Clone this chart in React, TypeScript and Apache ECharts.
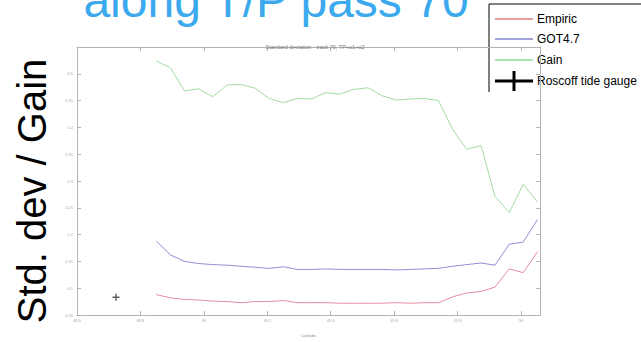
import React, { useEffect, useRef } from "react";
import * as echarts from "echarts";

// Along-track latitude of the T/P pass 70 samples (degrees N)
const latitudes = [
  48.85, 48.895, 48.939, 48.984, 49.028, 49.073, 49.117, 49.162, 49.206, 49.251,
  49.295, 49.34, 49.384, 49.429, 49.473, 49.518, 49.562, 49.607, 49.651, 49.696,
  49.74, 49.785, 49.829, 49.874, 49.918, 49.963, 50.007, 50.052,
];

// Standard deviation of the empirical model residuals
const empiric = [
  0.088, 0.082, 0.079, 0.078, 0.076, 0.075, 0.073, 0.075, 0.075, 0.077,
  0.073, 0.073, 0.073, 0.072, 0.072, 0.072, 0.072, 0.073, 0.072, 0.073,
  0.073, 0.084, 0.091, 0.094, 0.102, 0.136, 0.129, 0.168,
];

// Standard deviation of the GOT4.7 residuals
const got47 = [
  0.188, 0.162, 0.15, 0.146, 0.144, 0.143, 0.141, 0.139, 0.137, 0.14,
  0.135, 0.135, 0.136, 0.135, 0.135, 0.135, 0.135, 0.134, 0.135, 0.136,
  0.137, 0.141, 0.144, 0.147, 0.143, 0.182, 0.186, 0.228,
];

// Gain of the empirical model over GOT4.7
const gain = [
  0.524, 0.511, 0.468, 0.472, 0.457, 0.479, 0.48, 0.473, 0.454, 0.446,
  0.454, 0.453, 0.465, 0.462, 0.471, 0.474, 0.459, 0.451, 0.453, 0.454,
  0.45, 0.396, 0.359, 0.366, 0.272, 0.241, 0.294, 0.261,
];

// Roscoff tide gauge: [latitude, std. dev]
const roscoff = [48.723, 0.083];

const seriesNames = ["Empiric", "GOT4.7", "Gain", "Roscoff tide gauge"];
const lineColors = ["#e68c9c", "#8e8ed6", "#a2dca2"];
const legendColors = ["#cc4040", "#4848b8", "#58cc58"];

const plotTitle = "Standard deviation - track 70, TP+u1+u2";
const slideTitle = "along T/P pass 70";
const yName = "Std. dev / Gain";
const xName = "Latitude";

const X_MIN = 48.6;
const X_MAX = 50.06;
const X_STEP = 0.2;
const Y_MIN = 0.05;
const Y_MAX = 0.55;
const Y_STEP = 0.05;

const plusPath = "path://M4,0H6V4H10V6H6V10H4V6H0V4H4Z";

function onGrid(v: number, step: number, min: number) {
  const k = (v - min) / step;
  return Math.abs(k - Math.round(k)) < 1e-6;
}

export default function App() {
  const ref = useRef<HTMLDivElement>(null);

  useEffect(() => {
    if (!ref.current) return;
    const chart = echarts.init(ref.current, undefined, { renderer: "svg" });
    const axisGray = "#b4b4b4";
    const labelGray = "#a8a8a8";
    const tinyLabel = { fontSize: 4, color: labelGray, fontFamily: "Liberation Sans" };

    const xBase = {
      type: "value" as const,
      min: X_MIN,
      max: X_MAX,
      interval: X_STEP,
      splitLine: { show: false },
      axisLine: { show: true, onZero: false, lineStyle: { color: axisGray, width: 1 } },
      axisTick: { show: true, inside: true, length: 4, lineStyle: { color: axisGray } },
    };
    const yBase = {
      type: "value" as const,
      min: Y_MIN,
      max: Y_MAX,
      interval: Y_STEP,
      splitLine: { show: false },
      axisLine: { show: true, onZero: false, lineStyle: { color: axisGray, width: 1 } },
      axisTick: { show: true, inside: true, length: 4, lineStyle: { color: axisGray } },
    };

    const legendTop = 4;
    const legendBottom = 92;
    const rowY = [19, 39, 60, 81];
    const legendX = 489;

    // Legend panel: white box open at the bottom and right edges
    const legendItems: any[] = [
      {
        type: "rect",
        shape: { x: legendX, y: legendTop, width: 160, height: legendBottom - legendTop },
        style: { fill: "#ffffff", stroke: null },
      },
      {
        type: "polyline",
        shape: { points: [[legendX, legendBottom], [legendX, legendTop], [641, legendTop]] },
        style: { stroke: "#000000", lineWidth: 1, fill: null },
      },
    ];
    for (let i = 0; i < 3; i++) {
      legendItems.push({
        type: "line",
        shape: { x1: 495, y1: rowY[i], x2: 533, y2: rowY[i] },
        style: { stroke: legendColors[i], lineWidth: 1 },
      });
    }
    legendItems.push(
      {
        type: "line",
        shape: { x1: 495, y1: rowY[3], x2: 533, y2: rowY[3] },
        style: { stroke: "#000", lineWidth: 3 },
      },
      {
        type: "line",
        shape: { x1: 514, y1: rowY[3] - 10, x2: 514, y2: rowY[3] + 10 },
        style: { stroke: "#000", lineWidth: 3 },
      }
    );
    seriesNames.forEach((name, i) => {
      legendItems.push({
        type: "text",
        x: 537,
        y: rowY[i],
        style: {
          text: name,
          fill: "#000",
          font: "12px 'Liberation Sans', Arial, sans-serif",
          textAlign: "left",
          textVerticalAlign: "middle",
        },
      });
    });

    chart.setOption({
      animation: false,
      backgroundColor: "#ffffff",
      grid: { left: 77, right: 101, top: 47, bottom: 24, containLabel: false },
      xAxis: [
        {
          ...xBase,
          position: "bottom",
          name: xName,
          nameLocation: "middle",
          nameGap: 18,
          nameTextStyle: { ...tinyLabel, color: "#888" },
          axisLabel: {
            ...tinyLabel,
            margin: 3,
            formatter: (v: number) =>
              onGrid(v, X_STEP, X_MIN) ? String(Math.round(v * 10) / 10) : "",
          },
        },
        { ...xBase, position: "top", axisLabel: { show: false } },
      ],
      yAxis: [
        {
          ...yBase,
          position: "left",
          axisLabel: {
            ...tinyLabel,
            margin: 4,
            formatter: (v: number) =>
              v < Y_MAX - 1e-6 && onGrid(v, Y_STEP, Y_MIN) ? String(+v.toFixed(2)) : "",
          },
        },
        { ...yBase, position: "right", axisLabel: { show: false } },
      ],
      title: {
        text: plotTitle,
        left: 310,
        top: 39,
        textAlign: "center",
        textStyle: { fontSize: 5.5, color: "#777", fontWeight: "normal", fontFamily: "Liberation Sans" },
      },
      series: [
        {
          name: seriesNames[0],
          type: "line",
          data: latitudes.map((x, i) => [x, empiric[i]]),
          showSymbol: false,
          lineStyle: { color: lineColors[0], width: 1 },
          itemStyle: { color: lineColors[0] },
        },
        {
          name: seriesNames[1],
          type: "line",
          data: latitudes.map((x, i) => [x, got47[i]]),
          showSymbol: false,
          lineStyle: { color: lineColors[1], width: 1 },
          itemStyle: { color: lineColors[1] },
        },
        {
          name: seriesNames[2],
          type: "line",
          data: latitudes.map((x, i) => [x, gain[i]]),
          showSymbol: false,
          lineStyle: { color: lineColors[2], width: 1 },
          itemStyle: { color: lineColors[2] },
        },
        {
          name: seriesNames[3],
          type: "scatter",
          data: [roscoff],
          symbol: plusPath,
          symbolSize: 7,
          itemStyle: { color: "#333333" },
        },
      ],
      graphic: [
        {
          type: "text",
          x: 276,
          y: 0,
          style: {
            text: slideTitle,
            fill: "#3aa9ee",
            font: "48px 'Liberation Sans', Arial, sans-serif",
            textAlign: "center",
            textVerticalAlign: "middle",
          },
        },
        {
          type: "text",
          x: 32,
          y: 191,
          rotation: Math.PI / 2,
          style: {
            text: yName,
            fill: "#000",
            font: "40px 'Liberation Sans', Arial, sans-serif",
            textAlign: "center",
            textVerticalAlign: "middle",
          },
        },
        ...legendItems,
      ],
    });

    return () => chart.dispose();
  }, []);

  return (
    <div
      ref={ref}
      style={{ position: "fixed", left: 0, top: 0, width: 641, height: 342, background: "#fff" }}
    />
  );
}
